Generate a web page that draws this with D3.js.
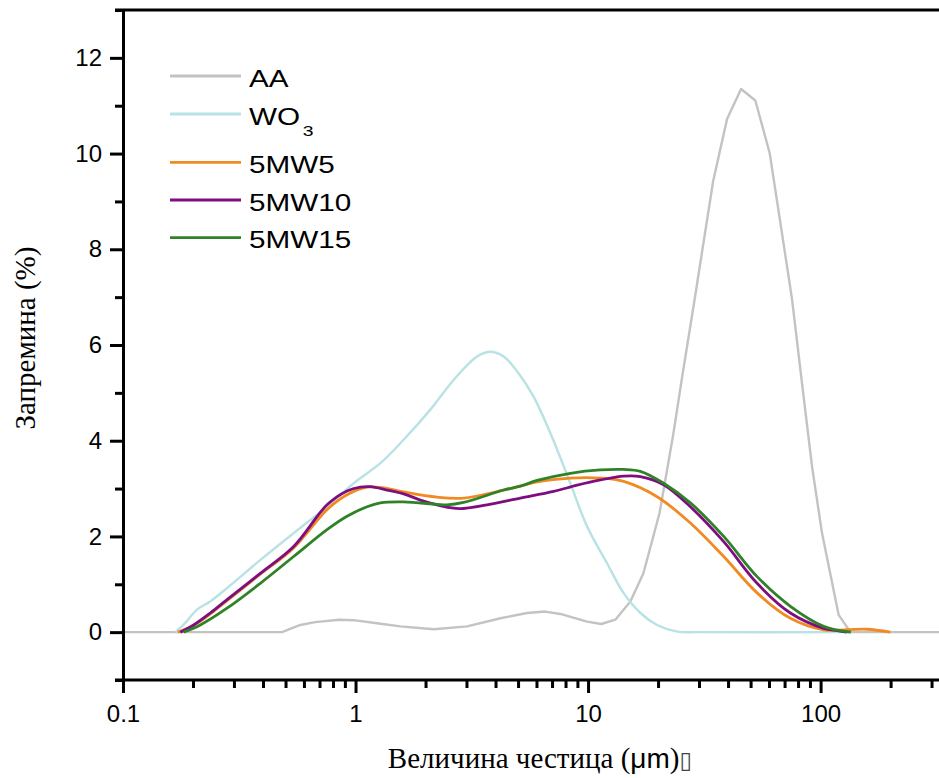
<!DOCTYPE html>
<html>
<head>
<meta charset="utf-8">
<script src="https://cdn.jsdelivr.net/npm/d3@7/dist/d3.min.js"></script>
<style>
  body { margin: 0; background: #fff; }
  svg { display: block; }
</style>
</head>
<body>
<svg id="chart" width="939" height="778"></svg>
<script>
// particle size (µm) , volume (%)
const AA = [
  [0.1, 0], [0.483, 0], [0.579, 0.15], [0.67, 0.21], [0.85, 0.26], [0.98, 0.25], [1.26, 0.18],
  [1.56, 0.12], [2.17, 0.06], [3.02, 0.12], [4.2, 0.29], [5.47, 0.4], [6.55, 0.43], [7.6, 0.38],
  [9.9, 0.22], [11.4, 0.17], [13.1, 0.26], [15.2, 0.64], [17.3, 1.23], [20.3, 2.49], [23.3, 4.16],
  [25.4, 5.34], [28.7, 6.94], [34.5, 9.42], [39.6, 10.72], [45.5, 11.35], [52.4, 11.11],
  [60.4, 10.01], [68.2, 8.34], [75.4, 6.95], [83.2, 5.2], [91.9, 3.46], [101.4, 2.07],
  [119.6, 0.36], [134.3, 0], [323, 0]
];
const WO3 = [
  [0.168, 0], [0.185, 0.19], [0.208, 0.47], [0.237, 0.64], [0.28, 0.92], [0.39, 1.51], [0.542, 2.07],
  [0.754, 2.62], [0.981, 3.11], [1.279, 3.53], [1.61, 4.02], [2.098, 4.65], [2.642, 5.27],
  [3.331, 5.76], [3.8, 5.86], [4.335, 5.76], [4.95, 5.45], [5.83, 4.92], [6.88, 4.16], [8.39, 3.11],
  [9.9, 2.21], [12.07, 1.44], [14.2, 0.82], [16.8, 0.4], [19.8, 0.15], [24.2, 0.01], [30, 0], [134, 0]
];
const MW5 = [
  [0.172, 0], [0.2013, 0.14], [0.2374, 0.38], [0.2802, 0.66], [0.3895, 1.21], [0.5418, 1.76],
  [0.7541, 2.56], [0.9192, 2.87], [1.121, 3.03], [1.3, 3.02], [1.61, 2.93], [2.24, 2.82],
  [2.92, 2.8], [4.335, 2.97], [5.115, 3.05], [6.035, 3.14], [8.393, 3.22], [11.3, 3.22],
  [14.23, 3.15], [19.81, 2.83], [27.54, 2.28], [38.31, 1.58], [53.33, 0.82], [74.17, 0.29],
  [103.1, 0.05], [130, 0.05], [158.5, 0.06], [199.6, 0]
];
const MW10 = [
  [0.1764, 0], [0.2013, 0.15], [0.2374, 0.4], [0.2802, 0.68], [0.3895, 1.23], [0.5418, 1.79],
  [0.7541, 2.66], [0.9192, 2.95], [1.0486, 3.03], [1.158, 3.04], [1.366, 2.97],
  [1.61, 2.89], [1.9, 2.76], [2.241, 2.66], [2.557, 2.6], [2.824, 2.58], [3.679, 2.66],
  [5.115, 2.8], [7.112, 2.94], [8.97, 3.07], [11.3, 3.18], [14.23, 3.26], [16.79, 3.25],
  [21.14, 3.08], [27.54, 2.62], [38.31, 1.89], [53.33, 1.02], [74.17, 0.4], [103.1, 0.08],
  [117.8, 0.03], [130, 0]
];
const MW15 = [
  [0.1823, 0], [0.215, 0.15], [0.2802, 0.5], [0.3895, 1.02], [0.5418, 1.58], [0.7541, 2.14],
  [0.9192, 2.42], [1.121, 2.62], [1.279, 2.7], [1.61, 2.72], [2.241, 2.67], [2.475, 2.66],
  [2.917, 2.71], [4.335, 2.97], [5.115, 3.05], [6.035, 3.17], [8.393, 3.32], [11.3, 3.39],
  [14.23, 3.4], [16.79, 3.36], [21.14, 3.11], [27.54, 2.7], [38.31, 2.0], [53.33, 1.16],
  [74.17, 0.54], [103.1, 0.12], [121.7, 0.03], [135, 0]
];

const seriesNames = ["AA", "WO3", "5MW5", "5MW10", "5MW15"];
const seriesData = [AA, WO3, MW5, MW10, MW15];
const seriesColors = ["#c3c3c3", "#b8e2e3", "#f28a22", "#7e0e80", "#2f8227"];

const xMajor = [0.1, 1, 10, 100];
const xMinor = [0.2, 0.3, 0.4, 0.5, 0.6, 0.7, 0.8, 0.9, 2, 3, 4, 5, 6, 7, 8, 9,
  20, 30, 40, 50, 60, 70, 80, 90, 200, 300];
const yMajor = [0, 2, 4, 6, 8, 10, 12];
const yMinor = [-1, 1, 3, 5, 7, 9, 11, 13];

const sans = '"Liberation Sans", Arial, sans-serif';
const serif = '"Liberation Serif", "Times New Roman", serif';

const plotLeft = 123, plotRight = 939, plotTop = 10, plotBottom = 680;

const svg = d3.select("#chart");
svg.append("rect").attr("width", 939).attr("height", 778).attr("fill", "#fff");

const x = d3.scaleLog().domain([0.1, 323]).range([plotLeft, plotRight]);
const y = d3.scaleLinear().domain([-1, 13]).range([plotBottom, plotTop]);

svg.append("defs").append("clipPath").attr("id", "plotclip")
  .append("rect").attr("x", plotLeft).attr("y", plotTop)
  .attr("width", plotRight - plotLeft).attr("height", plotBottom - plotTop);

// data lines (AA drawn as a polyline, the others smoothed)
const line = d3.line().x(d => x(d[0])).y(d => y(d[1]));
const plot = svg.append("g").attr("clip-path", "url(#plotclip)");
seriesData.forEach((data, i) => {
  plot.append("path")
    .datum(data)
    .attr("fill", "none")
    .attr("stroke", seriesColors[i])
    .attr("stroke-width", i < 2 ? 2.4 : 2.8)
    .attr("stroke-linejoin", "round")
    .attr("d", line.curve(i === 0 ? d3.curveLinear : d3.curveCatmullRom.alpha(0.5)));
});

// axes
const styleAxis = g => {
  g.selectAll("path, line").attr("stroke", "#000").attr("stroke-width", 3);
  g.selectAll("text").attr("font-family", sans).attr("font-size", 24).attr("fill", "#000");
};

svg.append("g")
  .attr("transform", `translate(0,${plotBottom})`)
  .call(d3.axisBottom(x).tickValues(xMinor).tickSize(8).tickFormat("").tickSizeOuter(0))
  .call(g => g.select(".domain").remove())
  .call(styleAxis);

svg.append("g")
  .attr("transform", `translate(0,${plotBottom})`)
  .call(d3.axisBottom(x).tickValues(xMajor).tickSize(13).tickSizeOuter(0)
    .tickFormat(d => d3.format("~g")(d)))
  .call(g => g.select(".domain").remove())
  .call(g => g.selectAll("text").attr("y", 42).attr("dy", null))
  .call(styleAxis);

svg.append("g")
  .attr("transform", `translate(${plotLeft},0)`)
  .call(d3.axisLeft(y).tickValues(yMinor).tickSize(8).tickFormat("").tickSizeOuter(0))
  .call(g => g.select(".domain").remove())
  .call(styleAxis);

svg.append("g")
  .attr("transform", `translate(${plotLeft},0)`)
  .call(d3.axisLeft(y).tickValues(yMajor).tickSize(13).tickPadding(8).tickSizeOuter(0))
  .call(styleAxis);

// bottom axis line and top border
svg.append("line").attr("x1", plotLeft - 8).attr("x2", plotRight)
  .attr("y1", plotBottom).attr("y2", plotBottom)
  .attr("stroke", "#000").attr("stroke-width", 3);
svg.append("line").attr("x1", plotLeft - 8).attr("x2", plotRight)
  .attr("y1", y(13)).attr("y2", y(13))
  .attr("stroke", "#000").attr("stroke-width", 3);

// legend
const legendRows = [76, 114, 162.3, 200, 237.7];
const legend = svg.append("g");
seriesNames.forEach((name, i) => {
  const ly = legendRows[i];
  legend.append("line")
    .attr("x1", 170).attr("x2", 241).attr("y1", ly).attr("y2", ly)
    .attr("stroke", seriesColors[i]).attr("stroke-width", 2.8);
  const t = legend.append("text")
    .attr("transform", `translate(249,${ly + 10.5}) scale(1.29,1)`)
    .attr("font-family", sans).attr("font-size", 23).attr("fill", "#000");
  if (name === "WO3") {
    t.append("tspan").text("WO");
    t.append("tspan").attr("font-size", 15).attr("dx", 2).attr("dy", 11).text("3");
  } else {
    t.text(name);
  }
});

// axis titles
const xt = svg.append("text")
  .attr("x", 540).attr("y", 768).attr("text-anchor", "middle")
  .attr("font-family", serif).attr("font-size", 29).attr("fill", "#000");
xt.append("tspan").text("Величина честица (");
xt.append("tspan").attr("font-family", sans).attr("font-size", 28).text("μm");
xt.append("tspan").text(")");
xt.append("tspan").attr("font-family", "DejaVu Sans").attr("font-size", 23).attr("fill", "#444").text("\u25AF");

svg.append("text")
  .attr("transform", `translate(35,${(plotTop + plotBottom) / 2 - 7}) rotate(-90)`)
  .attr("text-anchor", "middle")
  .attr("font-family", serif).attr("font-size", 29).attr("fill", "#000")
  .text("Запремина (%)");
</script>
</body>
</html>
